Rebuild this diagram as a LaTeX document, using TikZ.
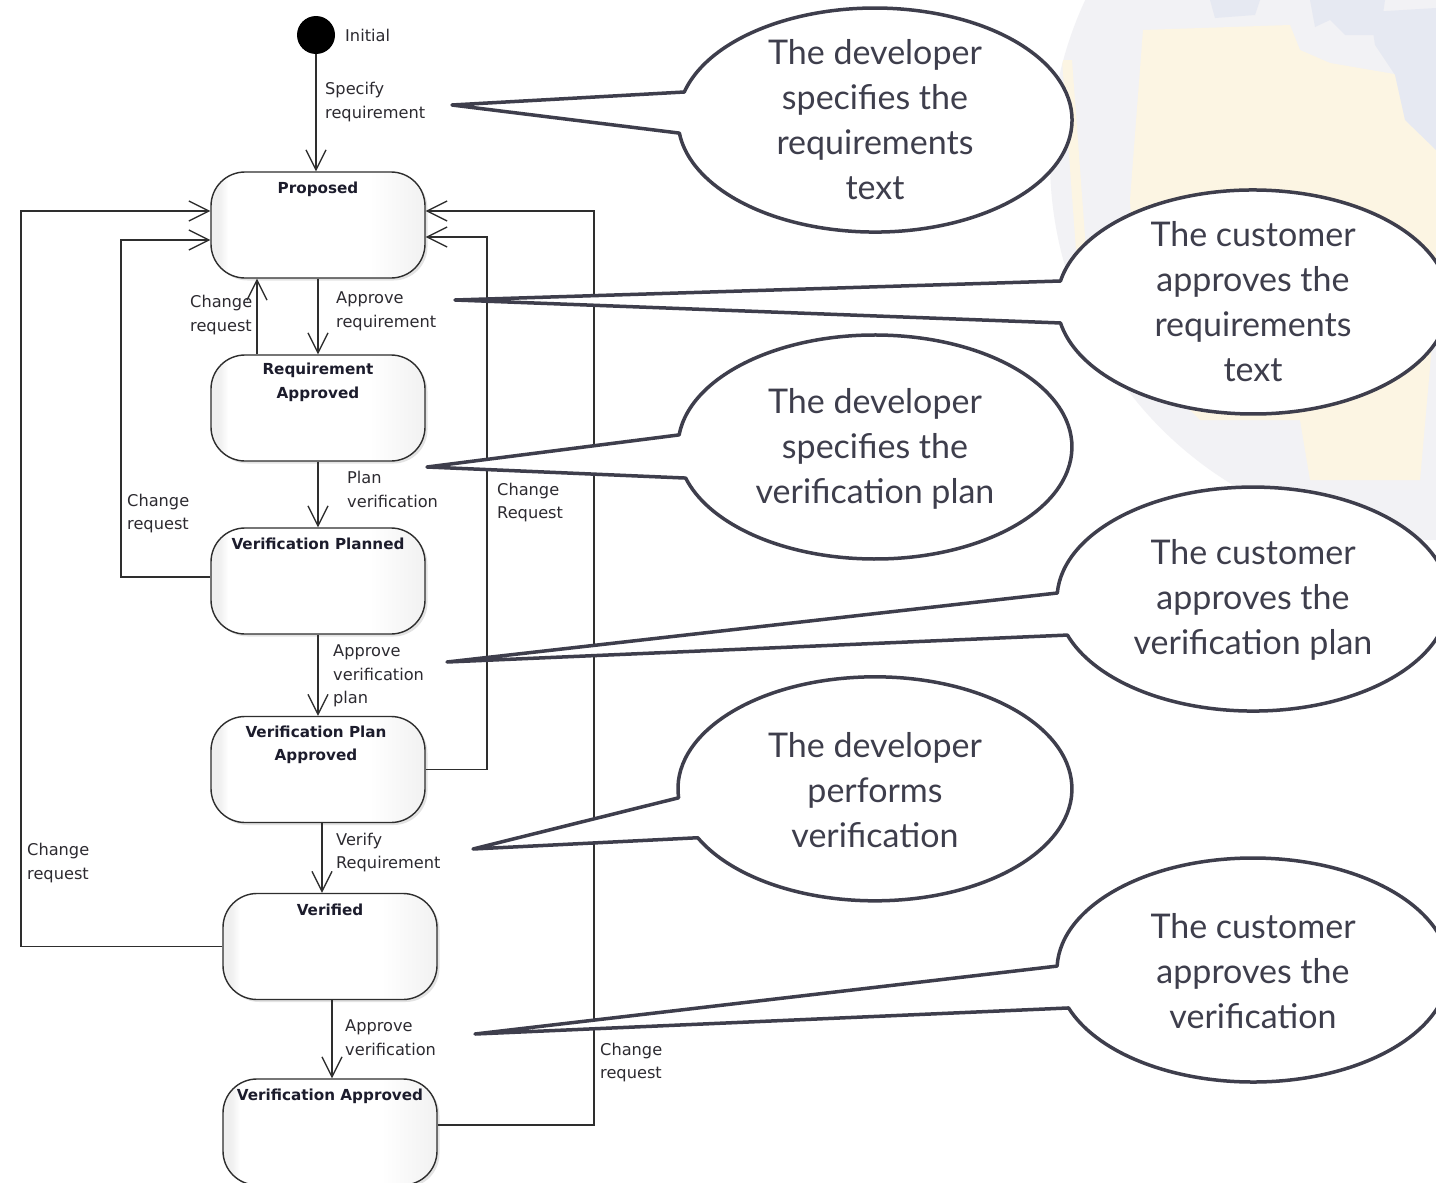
\documentclass[tikz,border=0pt]{standalone}
\usepackage{fontspec}
\setmainfont{Lato}
\newfontfamily\diafont{DejaVu Sans}
\usetikzlibrary{arrows.meta,shadows,calc}

\definecolor{ink}{HTML}{3E3E4C}
\definecolor{wire}{HTML}{2E2E2E}
\definecolor{labelink}{HTML}{2C2A30}
\definecolor{titleink}{HTML}{1C1C2C}
\definecolor{globe}{HTML}{F2F2F5}
\definecolor{land}{HTML}{FCF5E3}
\definecolor{sea}{HTML}{E6E9F2}

% soft grey-white fill of the state boxes
\pgfdeclarehorizontalshading{statefill}{100bp}{color(0bp)=(black!13); color(27bp)=(black!6); color(29bp)=(white); color(62bp)=(white); color(100bp)=(black!16)}

\tikzset{
  state/.style={draw=wire, line width=1.4pt, rounded corners=34pt,
    minimum width=214pt, minimum height=106pt, inner sep=0pt,
    shading=statefill,
    drop shadow={shadow xshift=2.5pt, shadow yshift=-2.5pt, opacity=0.22}},
  ttl/.style={font=\diafont\bfseries\fontsize{15.2}{23.5}\selectfont,
    text=titleink, align=center, inner sep=0pt},
  lbl/.style={font=\diafont\fontsize{16.2}{23.5}\selectfont,
    text=labelink, align=left, anchor=west, inner sep=0pt},
  tr/.style={draw=wire, line width=1.3pt,
    -{Straight Barb[length=20pt,width=20pt,line width=1.3pt]}},
  bubble/.style={draw=ink, line width=3.5pt, fill=white, line join=round},
  ctext/.style={font=\fontsize{34}{45}\selectfont, text=ink,
    align=center, inner sep=0pt},
  initdot/.style={circle, fill=black, minimum size=38pt, inner sep=0pt}
}

\begin{document}
\begin{tikzpicture}[x=1pt,y=-1pt]
\useasboundingbox (0,0) rectangle (1436,1183);
\fill[white] (0,0) rectangle (1436,1183);

% faint globe in the upper right corner
\begin{scope}
  \clip (1430,160) circle[radius=380pt];
  \fill[globe] (1000,-50) rectangle (1500,600);
  \fill[land] (1143,30) -- (1290,25) -- (1300,50) -- (1330,63) -- (1400,75)
    -- (1420,100) -- (1436,130) -- (1436,300) -- (1420,480) -- (1310,480)
    -- (1300,420) -- (1200,420) -- (1140,360) -- (1130,200) -- cycle;
  \fill[land] (1062,60) -- (1072,60) -- (1086,250) -- (1076,250) -- cycle;
  \fill[sea] (1210,0) -- (1260,0) -- (1255,15) -- (1215,18) -- cycle;
  \fill[sea] (1310,0) -- (1385,0) -- (1380,35) -- (1345,35) -- (1330,20) -- (1315,27) -- cycle;
  \fill[sea] (1370,12) -- (1436,8) -- (1436,150) -- (1405,120) -- (1395,75) -- (1375,45) -- cycle;
\end{scope}

% states
\node[initdot] (init) at (316,35) {};
\node[lbl] (l-init) at (345,35) {Initial};

\node[state] (proposed) at (318,225) {};
\node[state] (reqapp)   at (318,408) {};
\node[state] (vplanned) at (318,581) {};
\node[state] (vpapp)    at (318,769.5) {};
\node[state] (verified) at (330,946.5) {};
\node[state] (va)       at (330,1132) {};

\node[ttl] (t-proposed) at (318,189) {Proposed};
\node[ttl] (t-reqapp)   at (318,382.5) {Requirement\\Approved};
\node[ttl] (t-vplanned) at (318,544) {Verification Planned};
\node[ttl] (t-vpapp)    at (316,745) {Verification Plan\\Approved};
\node[ttl] (t-verified) at (330,910) {Verified};
\node[ttl] (t-va)       at (330,1096) {Verification Approved};

% ports and return buses
\coordinate (p-w1) at ([yshift=14pt]proposed.west);
\coordinate (p-w2) at ([yshift=-15pt]proposed.west);
\coordinate (p-e1) at ([yshift=14pt]proposed.east);
\coordinate (p-e2) at ([yshift=-12pt]proposed.east);
\coordinate (busL1) at (21,0);
\coordinate (busL2) at (121,0);
\coordinate (busR1) at (487,0);
\coordinate (busR2) at (594,0);

% forward transitions
\draw[tr] (init.south) -- (init.south |- proposed.north);
\draw[tr] (proposed.south) -- (reqapp.north);
\draw[tr] (reqapp.south) -- (vplanned.north);
\draw[tr] (vplanned.south) -- (vpapp.north);
\draw[tr] ([xshift=4pt]vpapp.south) -- ([xshift=4pt]vpapp.south |- verified.north);
\draw[tr] ([xshift=2pt]verified.south) -- ([xshift=2pt]va.north);

% change requests back to Proposed
\draw[tr] ([xshift=-61pt]reqapp.north) -- ([xshift=-61pt]proposed.south);
\draw[tr] ([yshift=4pt]vplanned.west) -| (busL2 |- p-w2) -- (p-w2);
\draw[tr] (verified.west) -| (busL1 |- p-w1) -- (p-w1);
\draw[tr] (vpapp.east) -| (busR1 |- p-e2) -- (p-e2);
\draw[tr] ([yshift=7pt]va.east) -| (busR2 |- p-e1) -- (p-e1);

% transition labels
\node[lbl] (l-spec)  at (325,102)   {Specify\\requirement};
\node[lbl] (l-cr1)   at (190,315)   {Change\\request};
\node[lbl] (l-appr)  at (336,311.5) {Approve\\requirement};
\node[lbl] (l-plan)  at (347,489.5) {Plan\\verification};
\node[lbl] (l-cr2)   at (127,513.5) {Change\\request};
\node[lbl] (l-cr3)   at (497,502.5) {Change\\Request};
\node[lbl] (l-avp)   at (333,676)   {Approve\\verification\\plan};
\node[lbl] (l-ver)   at (336,852.5) {Verify\\Requirement};
\node[lbl] (l-cr4)   at (27,863)    {Change\\request};
\node[lbl] (l-av)    at (345,1037.5){Approve\\verification};
\node[lbl] (l-cr5)   at (600,1062.5){Change\\request};

% speech bubbles
\draw[bubble] (684.3,92.0) arc[start angle=165.5, end angle=-173.3, x radius=197pt, y radius=112pt] -- (452,105) -- cycle;
\node[ctext] (c1) at (875,120) {The developer\\specifies the\\requirements\\text};

\draw[bubble] (1060.5,281.0) arc[start angle=169.2, end angle=-169.2, x radius=196pt, y radius=112pt] -- (455,300) -- cycle;
\node[ctext] (c2) at (1253,302) {The customer\\approves the\\requirements\\text};

\draw[bubble] (679.1,434.9) arc[start angle=173.8, end angle=-163.9, x radius=197pt, y radius=112pt] -- (427,467) -- cycle;
\node[ctext] (c3) at (875,449) {The developer\\specifies the\\verification plan};

\draw[bubble] (1057.3,593.0) arc[start angle=176.9, end angle=-161.25, x radius=196pt, y radius=112pt] -- (447,662) -- cycle;
\node[ctext] (c4) at (1253,600) {The customer\\approves the\\verification plan};

\draw[bubble] (678.6,797.8) arc[start angle=184.6, end angle=-154.1, x radius=197pt, y radius=112pt] -- (473,849) -- cycle;
\node[ctext] (c5) at (875,790) {The developer\\performs\\verification};

\draw[bubble] (1057.1,966.1) arc[start angle=178.0, end angle=-160.2, x radius=196pt, y radius=112pt] -- (475,1034) -- cycle;
\node[ctext] (c6) at (1253,971) {The customer\\approves the\\verification};
\end{tikzpicture}
\end{document}
